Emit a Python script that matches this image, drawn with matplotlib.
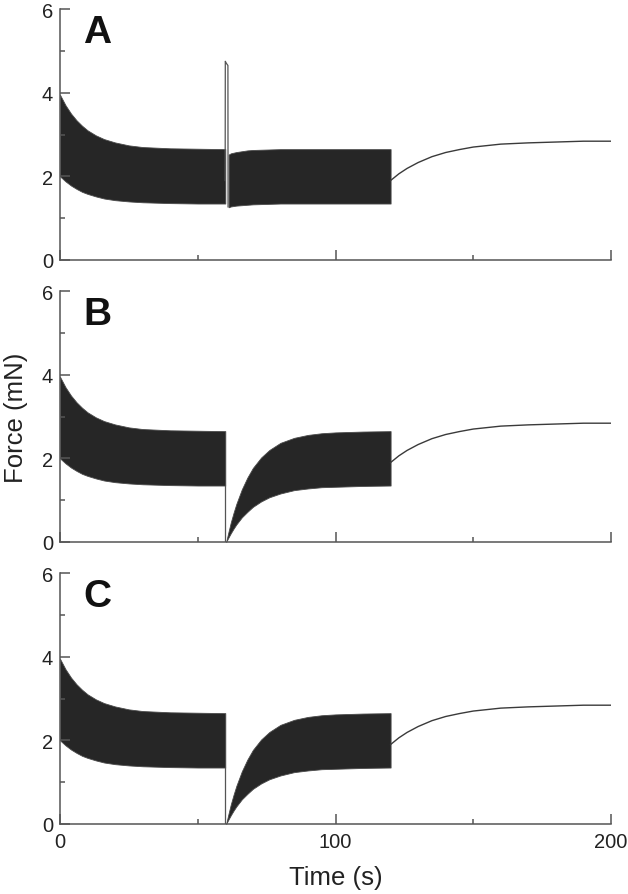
import matplotlib
matplotlib.use('Agg')
import matplotlib.pyplot as plt
from matplotlib.ticker import MultipleLocator

plt.rcParams['font.family'] = ['Liberation Sans', 'DejaVu Sans']

# --- data (force in mN, time in s) ---

# first train (0-60 s), same in all panels: envelope of the oscillation
t_train1 = [0, 2, 4, 6, 8, 10, 13, 16, 20, 25, 30, 40, 50, 60]
up_train1 = [3.95, 3.70, 3.50, 3.34, 3.21, 3.10, 2.98, 2.89, 2.81, 2.74, 2.70, 2.67, 2.66, 2.65]
lo_train1 = [2.00, 1.88, 1.78, 1.70, 1.63, 1.58, 1.52, 1.47, 1.43, 1.40, 1.38, 1.36, 1.35, 1.35]

# panel A: brief spike at 60 s, then second train
t_spike = [59.95, 60.0, 60.4, 60.95, 61.0]
f_spike = [1.90, 4.75, 4.70, 4.65, 1.27]
t_trainA = [61.2, 62, 64, 66, 68, 70, 75, 80, 90, 100, 110, 120]
up_trainA = [2.52, 2.55, 2.58, 2.60, 2.62, 2.63, 2.64, 2.65, 2.65, 2.65, 2.65, 2.65]
lo_trainA = [1.26, 1.28, 1.30, 1.31, 1.32, 1.33, 1.34, 1.35, 1.35, 1.35, 1.35, 1.35]

# panels B and C: force drops to zero at 60 s and recovers
t_drop = [60.0, 60.0, 60.3]
f_drop = [1.35, 0.0, 0.0]
t_trainBC = [60.3, 61, 62, 63, 64, 66, 68, 70, 73, 76, 80, 85, 90, 95, 100, 110, 120]
up_trainBC = [0.0, 0.20, 0.47, 0.70, 0.91, 1.26, 1.54, 1.77, 2.02, 2.20, 2.37, 2.49, 2.56, 2.60, 2.62, 2.64, 2.65]
lo_trainBC = [0.0, 0.09, 0.21, 0.32, 0.42, 0.59, 0.72, 0.84, 0.97, 1.07, 1.16, 1.24, 1.28, 1.31, 1.32, 1.34, 1.35]

# after stimulation stops (120-200 s)
t_rise = [120, 123, 126, 130, 135, 140, 145, 150, 160, 170, 180, 190, 200]
f_rise = [1.90, 2.06, 2.19, 2.33, 2.47, 2.57, 2.64, 2.70, 2.77, 2.80, 2.82, 2.84, 2.84]

panel_names = ['A', 'B', 'C']

band_col = '#262626'
band_edge = '#4a4a4a'
line_col = '#3a3a3a'
axis_col = '#555555'
text_col = '#222222'

fig = plt.figure(figsize=(6.28, 8.95), dpi=100)

W, H = 628., 895.
left, right = 60, 611
zeros = [261, 543, 825]   # pixel row of y=0 for each panel
ax_h = 251

axes = []
for i, name in enumerate(panel_names):
    y0 = zeros[i]
    ax = fig.add_axes([left / W, (H - y0) / H, (right - left) / W, ax_h / H])
    axes.append(ax)

    # first train
    ax.fill_between(t_train1, lo_train1, up_train1, color=band_col, lw=0.6, edgecolor=band_edge)

    if name == 'A':
        ax.plot(t_spike, f_spike, color='#555555', lw=0.9)
        ax.fill_between(t_trainA, lo_trainA, up_trainA, color=band_col, lw=0.6, edgecolor=band_edge)
    else:
        ax.plot(t_drop, f_drop, color='#555555', lw=0.9)
        ax.fill_between(t_trainBC, lo_trainBC, up_trainBC, color=band_col, lw=0.6, edgecolor=band_edge)

    ax.plot(t_rise, f_rise, color=line_col, lw=1.0)

    ax.set_xlim(0, 200)
    ax.set_ylim(0, 6)
    for s in ['top', 'right']:
        ax.spines[s].set_visible(False)
    for s in ['left', 'bottom']:
        ax.spines[s].set_color(axis_col)
        ax.spines[s].set_linewidth(1.1)

    ax.xaxis.set_major_locator(MultipleLocator(100))
    ax.xaxis.set_minor_locator(MultipleLocator(50))
    ax.yaxis.set_major_locator(MultipleLocator(2))
    ax.yaxis.set_minor_locator(MultipleLocator(1))
    ax.tick_params(which='both', direction='in', color=axis_col, width=1.1,
                   labelsize=14.5, labelcolor=text_col)
    ax.tick_params(which='major', length=7)
    ax.tick_params(which='minor', length=3.6)
    ax.tick_params(axis='y', pad=5)
    ax.tick_params(axis='x', pad=6)
    if name != 'C':
        ax.tick_params(axis='x', labelbottom=False)

    ax.text(0.042, 5.22, name, fontsize=28, fontweight='bold', color='#111111',
            transform=ax.get_yaxis_transform(), va='baseline', ha='left')

axes[1].set_ylabel('Force (mN)', fontsize=18.5, color=text_col)
axes[1].yaxis.set_label_coords(-0.058, 0.5)
axes[2].set_xlabel('Time (s)', fontsize=18.5, color=text_col, va='center')
axes[2].xaxis.set_label_coords(0.5, -0.211)

plt.savefig('out.png', dpi=100)
